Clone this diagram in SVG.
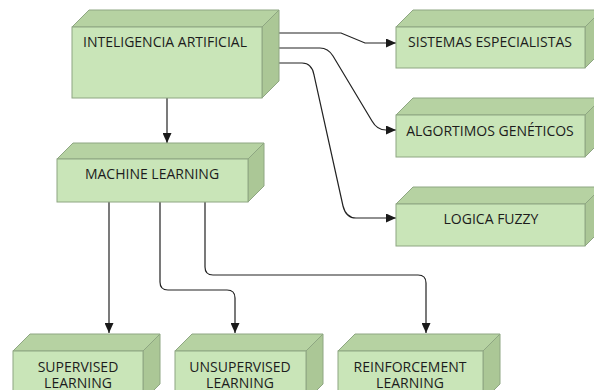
<svg xmlns="http://www.w3.org/2000/svg" width="594" height="390" viewBox="0 0 594 390">
  <defs>
    <marker id="arrow" markerUnits="userSpaceOnUse" markerWidth="10" markerHeight="9" refX="10" refY="4.5" orient="auto">
      <path d="M0,0 L10,4.5 L0,9 z" fill="#1a1a1a"/>
    </marker>
    <style>
      .front { fill: #c9e5b8; stroke: #8ea682; stroke-width: 1; }
      .top { fill: #b6d2a2; stroke: #8ea682; stroke-width: 1; stroke-linejoin: round; }
      .side { fill: #abc796; stroke: #8ea682; stroke-width: 1; stroke-linejoin: round; }
      .label { font-family: "Open Sans", "Liberation Sans", sans-serif; font-size: 14px; fill: #1c1c1c; text-anchor: middle; }
      .edge { fill: none; stroke: #222; stroke-width: 1.2; marker-end: url(#arrow); }
    </style>
  </defs>
  <rect width="594" height="390" fill="#ffffff"/>

  <!-- connectors -->
  <g id="connectors">
    <path class="edge" d="M167,98 V143"/>
    <path class="edge" d="M278,33 H341 L365,43 H396"/>
    <path class="edge" d="M278,48 H320 Q328,48 333,56 L372,121 Q377,130 386,130 H396"/>
    <path class="edge" d="M278,63 H302 Q312,63 314,75 L343,206 Q346,218 356,218 H396"/>
    <path class="edge" d="M109,202 V333"/>
    <path class="edge" d="M160,202 V282 Q160,290 168,290 H227 Q235,290 235,298 V333"/>
    <path class="edge" d="M205,202 V267 Q205,275 213,275 H418 Q426,275 426,283 V333"/>
  </g>

  <!-- INTELIGENCIA ARTIFICIAL: front 72,27 190x71, depth 17 -->
  <g id="node-ia">
    <polygon class="top" points="72,27 89,10 279,10 262,27"/>
    <polygon class="side" points="262,27 279,10 279,81 262,98"/>
    <rect class="front" x="72" y="27" width="190" height="71"/>
    <text class="label" x="165" y="47">INTELIGENCIA ARTIFICIAL</text>
  </g>

  <!-- MACHINE LEARNING -->
  <g id="node-ml">
    <polygon class="top" points="57,159 73,143 264,143 248,159"/>
    <polygon class="side" points="248,159 264,143 264,186 248,202"/>
    <rect class="front" x="57" y="159" width="191" height="43"/>
    <text class="label" x="152" y="179">MACHINE LEARNING</text>
  </g>

  <!-- SISTEMAS ESPECIALISTAS -->
  <g id="node-se">
    <polygon class="top" points="396,27 413,10 602,10 585,27"/>
    <polygon class="side" points="585,27 602,10 602,51 585,68"/>
    <rect class="front" x="396" y="27" width="189" height="41"/>
    <text class="label" x="490" y="47">SISTEMAS ESPECIALISTAS</text>
  </g>

  <!-- ALGORTIMOS GENÉTICOS -->
  <g id="node-ag">
    <polygon class="top" points="396,115 413,98 602,98 585,115"/>
    <polygon class="side" points="585,115 602,98 602,140 585,157"/>
    <rect class="front" x="396" y="115" width="189" height="42"/>
    <text class="label" x="490" y="136">ALGORTIMOS GENÉTICOS</text>
  </g>

  <!-- LOGICA FUZZY -->
  <g id="node-lf">
    <polygon class="top" points="396,204 413,187 602,187 585,204"/>
    <polygon class="side" points="585,204 602,187 602,229 585,246"/>
    <rect class="front" x="396" y="204" width="189" height="42"/>
    <text class="label" x="491" y="224">LOGICA FUZZY</text>
  </g>

  <!-- SUPERVISED LEARNING -->
  <g id="node-sl">
    <polygon class="top" points="13,351 30,334 160,334 143,351"/>
    <polygon class="side" points="143,351 160,334 160,384 143,401"/>
    <rect class="front" x="13" y="351" width="130" height="50"/>
    <text class="label" x="78" y="372">SUPERVISED</text>
    <text class="label" x="78" y="388">LEARNING</text>
  </g>

  <!-- UNSUPERVISED LEARNING -->
  <g id="node-ul">
    <polygon class="top" points="175,351 192,334 323,334 306,351"/>
    <polygon class="side" points="306,351 323,334 323,384 306,401"/>
    <rect class="front" x="175" y="351" width="131" height="50"/>
    <text class="label" x="240" y="372">UNSUPERVISED</text>
    <text class="label" x="240" y="388">LEARNING</text>
  </g>

  <!-- REINFORCEMENT LEARNING -->
  <g id="node-rl">
    <polygon class="top" points="338,351 355,334 500,334 483,351"/>
    <polygon class="side" points="483,351 500,334 500,384 483,401"/>
    <rect class="front" x="338" y="351" width="145" height="50"/>
    <text class="label" x="410" y="372">REINFORCEMENT</text>
    <text class="label" x="410" y="388">LEARNING</text>
  </g>
</svg>
